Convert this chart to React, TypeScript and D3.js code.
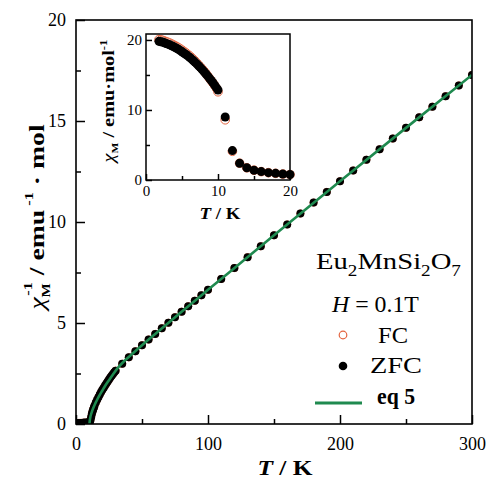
import { useRef, useEffect } from 'react';
import * as d3 from 'd3';

const GREEN = '#1f8a4f';
const FC_RED = '#e4643f';
const FONT = '"Liberation Serif", "Times New Roman", serif';

// main plot: inverse susceptibility (ZFC) vs T
const mainT = [
  2, 2.5, 3, 3.5, 4, 4.5, 5, 5.5, 6, 6.5, 7, 7.5, 8, 8.5, 9, 9.5, 10,
  10.5, 11, 11.5, 12, 12.5, 13, 13.5, 14, 15, 16, 17, 18, 19, 20, 21, 22, 23,
  24, 25, 26, 27, 28, 29, 30, 35, 40, 45, 50, 55, 60, 65, 70, 75, 80, 85, 90,
  95, 100, 110, 120, 130, 140, 150, 160, 170, 180, 190, 200, 210, 220, 230,
  240, 250, 260, 270, 280, 290, 300,
];
const mainInv = [
  0.051, 0.051, 0.052, 0.052, 0.053, 0.054, 0.055, 0.056, 0.057, 0.059, 0.06,
  0.062, 0.065, 0.067, 0.07, 0.073, 0.078, 0.1, 0.2, 0.35, 0.5, 0.62, 0.72,
  0.81, 0.9, 1.06, 1.2, 1.33, 1.46, 1.58, 1.69, 1.8, 1.9, 2.0, 2.1, 2.2, 2.3,
  2.39, 2.47, 2.56, 2.64, 2.98, 3.3, 3.6, 3.9, 4.18, 4.46, 4.74, 5.01, 5.29,
  5.56, 5.83, 6.1, 6.37, 6.64, 7.18, 7.72, 8.26, 8.8, 9.34, 9.88, 10.42,
  10.96, 11.49, 12.02, 12.55, 13.08, 13.6, 14.13, 14.66, 15.18, 15.71, 16.23,
  16.76, 17.28,
];

// eq 5 fit curve
const fitT = [10.2, 10.5, 11, 12, 13, 14, 15, 16, 18, 20, 22, 25, 28, 32, 36, 40, 50, 60, 80, 100, 150, 200, 250, 300];
const fitInv = [0, 0.2, 0.38, 0.6, 0.78, 0.93, 1.07, 1.2, 1.44, 1.66, 1.88, 2.17, 2.45, 2.8, 3.08, 3.32, 3.9, 4.46, 5.56, 6.64, 9.34, 12.02, 14.66, 17.28];

// inset: susceptibility vs T
const insetT = [
  1.8, 2.05, 2.3, 2.55, 2.8, 3.05, 3.3, 3.55, 3.8, 4.05, 4.3, 4.55, 4.8, 5.05,
  5.3, 5.55, 5.8, 6.05, 6.3, 6.55, 6.8, 7.05, 7.3, 7.55, 7.8, 8.05, 8.3, 8.55,
  8.8, 9.05, 9.3, 9.55, 9.8, 10, 11, 12, 13, 14, 15, 16, 17, 18, 19, 20,
];
const insetZfc = [
  19.8, 19.75, 19.7, 19.6, 19.5, 19.4, 19.3, 19.18, 19.05, 18.92, 18.78,
  18.62, 18.45, 18.28, 18.1, 17.92, 17.72, 17.52, 17.3, 17.07, 16.83, 16.58,
  16.32, 16.05, 15.77, 15.48, 15.18, 14.87, 14.55, 14.22, 13.88, 13.52, 13.15,
  12.85, 9.0, 4.2, 2.4, 1.75, 1.4, 1.2, 1.05, 0.95, 0.85, 0.78,
];
const insetFc = [
  20.05, 20.0, 19.95, 19.85, 19.75, 19.65, 19.55, 19.43, 19.3, 19.17, 19.03,
  18.87, 18.7, 18.52, 18.33, 18.14, 17.94, 17.73, 17.5, 17.26, 17.01, 16.72,
  16.43, 16.15, 15.87, 15.56, 15.24, 14.9, 14.55, 14.2, 13.85, 13.48, 13.08,
  12.6, 8.6, 4.1, 2.4, 1.75, 1.4, 1.2, 1.05, 0.95, 0.85, 0.78,
];

const mainXTicks = [0, 100, 200, 300];
const mainXMinor = [50, 150, 250];
const mainYTicks = [0, 5, 10, 15, 20];
const mainYMinor = [2.5, 7.5, 12.5, 17.5];
const insetXTicks = [0, 10, 20];
const insetXMinor = [5, 15];
const insetYTicks = [0, 10, 20];
const insetYMinor = [5, 15];

const W = 488;
const H = 481;

const styleAxis = (g, size) => {
  g.select('.domain').remove();
  g.selectAll('line').attr('stroke', '#000').attr('stroke-width', 1.5);
  g.selectAll('text')
    .attr('fill', '#000')
    .style('font-family', FONT)
    .style('font-size', size + 'px');
};

// stretch a text horizontally (in its own frame) so it spans `target` px
const stretchTo = (sel, x, y, target, extra = '') => {
  const w = sel.node().getComputedTextLength() || target;
  sel.attr('transform', `translate(${x},${y}) ${extra} scale(${target / w},1)`);
};

const Chart = () => {
  const svgRef = useRef(null);

  useEffect(() => {
    const svg = d3.select(svgRef.current);
    svg.selectAll('*').remove();

    // ---------- main plot ----------
    const m = { left: 76, top: 20, right: 472, bottom: 424 };
    const x = d3.scaleLinear().domain([0, 300]).range([m.left, m.right]);
    const y = d3.scaleLinear().domain([0, 20]).range([m.bottom, m.top]);

    svg.append('defs')
      .append('clipPath')
      .attr('id', 'mainclip')
      .append('rect')
      .attr('x', m.left)
      .attr('y', m.top)
      .attr('width', m.right - m.left)
      .attr('height', m.bottom - m.top);

    const plot = svg.append('g').attr('clip-path', 'url(#mainclip)');

    const mainPts = mainT.map((t, i) => ({ t, v: mainInv[i] }));
    // FC (hidden behind ZFC in the main panel)
    plot.selectAll('circle.fc')
      .data(mainPts)
      .join('circle')
      .attr('class', 'fc')
      .attr('cx', (d) => x(d.t))
      .attr('cy', (d) => y(d.v))
      .attr('r', 3.6)
      .attr('fill', 'white')
      .attr('stroke', FC_RED)
      .attr('stroke-width', 1);
    plot.selectAll('circle.zfc')
      .data(mainPts)
      .join('circle')
      .attr('class', 'zfc')
      .attr('cx', (d) => x(d.t))
      .attr('cy', (d) => y(d.v))
      .attr('r', 4)
      .attr('fill', '#000');

    const fitLine = d3.line()
      .x((d) => x(d.t))
      .y((d) => y(d.v))
      .curve(d3.curveMonotoneX);
    plot.append('path')
      .datum(fitT.map((t, i) => ({ t, v: fitInv[i] })))
      .attr('d', fitLine)
      .attr('fill', 'none')
      .attr('stroke', GREEN)
      .attr('stroke-width', 2.6);

    // axes (ticks inward)
    const xAxis = svg.append('g')
      .attr('transform', `translate(0,${m.bottom})`)
      .call(d3.axisBottom(x).tickValues(mainXTicks).tickSize(-9).tickPadding(13).tickFormat(d3.format('d')));
    styleAxis(xAxis, 18);
    const xMinor = svg.append('g')
      .attr('transform', `translate(0,${m.bottom})`)
      .call(d3.axisBottom(x).tickValues(mainXMinor).tickSize(-5).tickFormat(() => ''));
    styleAxis(xMinor, 18);

    const yAxis = svg.append('g')
      .attr('transform', `translate(${m.left},0)`)
      .call(d3.axisLeft(y).tickValues(mainYTicks).tickSize(-9).tickPadding(10).tickFormat(d3.format('d')));
    styleAxis(yAxis, 18);
    const yMinor = svg.append('g')
      .attr('transform', `translate(${m.left},0)`)
      .call(d3.axisLeft(y).tickValues(mainYMinor).tickSize(-5).tickFormat(() => ''));
    styleAxis(yMinor, 18);

    svg.append('rect')
      .attr('x', m.left)
      .attr('y', m.top)
      .attr('width', m.right - m.left)
      .attr('height', m.bottom - m.top)
      .attr('fill', 'none')
      .attr('stroke', '#000')
      .attr('stroke-width', 1.6);

    // x label
    const xl = svg.append('text')
      .attr('text-anchor', 'middle')
      .style('font-family', FONT)
      .style('font-size', '22px')
      .style('font-weight', 'bold');
    xl.append('tspan').style('font-style', 'italic').text('T');
    xl.append('tspan').text(' / K');
    stretchTo(xl, 285, 475, 55);

    // y label
    const yl = svg.append('text')
      .attr('text-anchor', 'middle')
      .style('font-family', FONT)
      .style('font-size', '22px')
      .style('font-weight', 'bold');
    yl.append('tspan').style('font-style', 'italic').style('font-weight', 'normal').text('χ');
    yl.append('tspan').attr('dy', 6).style('font-size', '12px').text('M');
    yl.append('tspan').attr('dy', -18).attr('dx', -10).style('font-size', '13px').text('-1');
    yl.append('tspan').attr('dy', 12).text(' / emu');
    yl.append('tspan').attr('dy', -11).style('font-size', '13px').text(' -1');
    yl.append('tspan').attr('dy', 11).text(' · mol');
    stretchTo(yl, 44, 217, 198, 'rotate(-90)');

    // ---------- inset ----------
    const n = { left: 146, top: 34, right: 290, bottom: 180 };
    const ix = d3.scaleLinear().domain([0, 20]).range([n.left, n.right]);
    const iy = d3.scaleLinear().domain([0, 20.85]).range([n.bottom, n.top]);

    const insetPtsFc = insetT.map((t, i) => ({ t, v: insetFc[i] }));
    const insetPtsZfc = insetT.map((t, i) => ({ t, v: insetZfc[i] }));
    svg.append('g')
      .selectAll('circle')
      .data(insetPtsFc)
      .join('circle')
      .attr('cx', (d) => ix(d.t))
      .attr('cy', (d) => iy(d.v))
      .attr('r', 4.3)
      .attr('fill', 'white')
      .attr('stroke', FC_RED)
      .attr('stroke-width', 1);
    svg.append('g')
      .selectAll('circle')
      .data(insetPtsZfc)
      .join('circle')
      .attr('cx', (d) => ix(d.t))
      .attr('cy', (d) => iy(d.v))
      .attr('r', 4.5)
      .attr('fill', '#000');

    const ixAxis = svg.append('g')
      .attr('transform', `translate(0,${n.bottom})`)
      .call(d3.axisBottom(ix).tickValues(insetXTicks).tickSize(-6).tickPadding(5).tickFormat(d3.format('d')));
    styleAxis(ixAxis, 15);
    const ixMinor = svg.append('g')
      .attr('transform', `translate(0,${n.bottom})`)
      .call(d3.axisBottom(ix).tickValues(insetXMinor).tickSize(-4).tickFormat(() => ''));
    styleAxis(ixMinor, 15);
    const iyAxis = svg.append('g')
      .attr('transform', `translate(${n.left},0)`)
      .call(d3.axisLeft(iy).tickValues(insetYTicks).tickSize(-6).tickPadding(4).tickFormat(d3.format('d')));
    styleAxis(iyAxis, 15);
    const iyMinor = svg.append('g')
      .attr('transform', `translate(${n.left},0)`)
      .call(d3.axisLeft(iy).tickValues(insetYMinor).tickSize(-4).tickFormat(() => ''));
    styleAxis(iyMinor, 15);

    svg.append('rect')
      .attr('x', n.left)
      .attr('y', n.top)
      .attr('width', n.right - n.left)
      .attr('height', n.bottom - n.top)
      .attr('fill', 'none')
      .attr('stroke', '#000')
      .attr('stroke-width', 1.5);

    const ixl = svg.append('text')
      .attr('text-anchor', 'middle')
      .style('font-family', FONT)
      .style('font-size', '17px')
      .style('font-weight', 'bold');
    ixl.append('tspan').style('font-style', 'italic').text('T');
    ixl.append('tspan').text(' / K');
    stretchTo(ixl, 220, 219, 41);

    const iyl = svg.append('text')
      .attr('text-anchor', 'middle')
      .style('font-family', FONT)
      .style('font-size', '16px')
      .style('font-weight', 'bold');
    iyl.append('tspan').style('font-style', 'italic').style('font-weight', 'normal').text('χ');
    iyl.append('tspan').attr('dy', 4).style('font-size', '9px').text('M');
    iyl.append('tspan').attr('dy', -4).text(' / emu·mol');
    iyl.append('tspan').attr('dy', -7).style('font-size', '10px').text('-1');
    stretchTo(iyl, 114, 101, 123, 'rotate(-90)');

    // ---------- legend ----------
    const lg = svg.append('g').style('font-family', FONT);
    const title = lg.append('text').style('font-size', '24px');
    title.append('tspan').text('Eu');
    title.append('tspan').attr('dy', 7).style('font-size', '16px').text('2');
    title.append('tspan').attr('dy', -7).text('MnSi');
    title.append('tspan').attr('dy', 7).style('font-size', '16px').text('2');
    title.append('tspan').attr('dy', -7).text('O');
    title.append('tspan').attr('dy', 7).style('font-size', '16px').text('7');
    stretchTo(title, 316, 269, 145);

    const hl = lg.append('text').style('font-size', '23px');
    hl.append('tspan').style('font-style', 'italic').text('H');
    hl.append('tspan').text(' = 0.1T');
    stretchTo(hl, 332, 312, 87);

    lg.append('circle').attr('cx', 343).attr('cy', 335).attr('r', 3.8)
      .attr('fill', 'white').attr('stroke', FC_RED).attr('stroke-width', 1.2);
    const fc = lg.append('text').style('font-size', '23px').text('FC');
    stretchTo(fc, 378, 343, 30);

    lg.append('circle').attr('cx', 343).attr('cy', 366).attr('r', 4.3).attr('fill', '#000');
    const zfc = lg.append('text').style('font-size', '23px').text('ZFC');
    stretchTo(zfc, 370, 373, 52);

    lg.append('line').attr('x1', 315).attr('x2', 362).attr('y1', 403).attr('y2', 403)
      .attr('stroke', GREEN).attr('stroke-width', 3);
    const eq = lg.append('text').style('font-size', '23px')
      .style('font-weight', 'bold').text('eq 5');
    stretchTo(eq, 377, 404, 38);
  }, []);

  return (
    <svg
      ref={svgRef}
      width={W}
      height={H}
      style={{ position: 'absolute', left: 0, top: 0, background: 'white' }}
    />
  );
};

export default function App() {
  return <Chart />;
}
